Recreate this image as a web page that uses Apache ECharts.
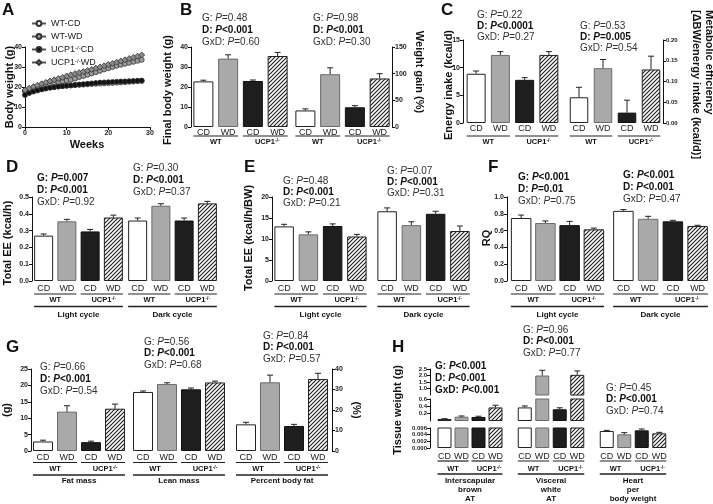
<!DOCTYPE html>
<html><head><meta charset="utf-8">
<script src="https://cdn.jsdelivr.net/npm/echarts@6/dist/echarts.min.js"></script>
<style>html,body{margin:0;padding:0;background:#fff}#c{width:713px;height:504px}</style>
</head><body><div id="c"></div>
<script>
// ---------------- DATA ----------------
const xCats = ['CD', 'WD', 'CD', 'WD'];
const weeks = [0,1,2,3,4,5,6,7,8,9,10,11,12,13,14,15,16,17,18,19,20,21,22,23,24,25,26,27,28];
const bwWTCD  = [17.8,18.3,18.7,19.0,19.3,19.6,19.9,20.1,20.3,20.5,20.7,20.8,21.0,21.1,21.2,21.3,21.5,21.6,21.7,21.8,21.9,22.0,22.1,22.3,22.4,22.6,22.7,22.9,23.0];
const bwWTWD  = [18.0,18.6,19.3,19.9,20.5,21.0,21.5,22.0,22.4,22.8,23.2,23.6,24.2,25.0,25.5,26.1,26.8,27.4,28.1,28.8,29.4,30.0,30.6,31.1,31.6,32.1,32.6,33.1,33.6];
const bwUCPCD = [16.0,17.0,17.7,18.3,18.8,19.2,19.6,19.9,20.2,20.4,20.6,20.8,21.0,21.2,21.4,21.6,21.8,22.0,22.2,22.3,22.4,22.5,22.6,22.7,22.8,22.9,23.0,23.1,23.2];
const bwUCPWD = [18.5,19.4,20.2,20.9,21.6,22.3,23.0,23.6,24.2,24.8,25.5,26.1,26.7,27.2,27.7,28.2,28.8,29.4,30.0,30.6,31.2,31.8,32.4,33.0,33.6,34.2,34.8,35.4,36.0];
const finalBW = [22.8, 34.2, 23.0, 35.5];
const finalBWErr = [0.6, 1.9, 0.5, 1.8];
const weightGain = [31, 99, 37, 91];
const weightGainErr = [3, 12, 3, 9];
const energyIntake = [8.9, 12.3, 7.8, 12.3];
const energyIntakeErr = [0.5, 0.6, 0.4, 0.6];
const metabEff = [0.062, 0.132, 0.025, 0.129];
const metabEffErr = [0.024, 0.021, 0.030, 0.032];
const eeLight = [0.27, 0.355, 0.295, 0.378];
const eeLightErr = [0.01, 0.012, 0.012, 0.014];
const eeDark = [0.36, 0.448, 0.36, 0.462];
const eeDarkErr = [0.015, 0.012, 0.015, 0.012];
const eeBWLight = [13.0, 11.1, 13.1, 10.6];
const eeBWLightErr = [0.5, 0.6, 0.5, 0.5];
const eeBWDark = [16.6, 13.3, 16.0, 11.9];
const eeBWDarkErr = [0.8, 0.8, 0.6, 1.2];
const rqLight = [0.75, 0.69, 0.665, 0.615];
const rqLightErr = [0.035, 0.025, 0.045, 0.015];
const rqDark = [0.835, 0.74, 0.71, 0.655];
const rqDarkErr = [0.015, 0.03, 0.012, 0.008];
const fatMass = [2.9, 12.0, 2.7, 12.9];
const fatMassErr = [0.4, 1.8, 0.3, 1.4];
const leanMass = [18.0, 20.4, 18.8, 20.9];
const leanMassErr = [0.3, 0.4, 0.4, 0.4];
const pctFat = [13.0, 33.5, 12.2, 35.1];
const pctFatErr = [1.0, 3.5, 0.8, 2.8];
const ibatWt = [0.055, 0.117, 0.11, 0.37];
const ibatErr = [0.008, 0.02, 0.02, 0.06];
const vwatWt = [0.37, 2.0, 0.32, 2.05];
const vwatErr = [0.04, 0.4, 0.04, 0.3];
const heartRatio = [0.0051, 0.0041, 0.0053, 0.0044];
const heartErr = [0.0002, 0.0005, 0.0004, 0.0003];

// ---------------- HELPERS ----------------
const FONT = '"Liberation Sans", Arial, sans-serif';
const hc = document.createElement('canvas'); hc.width = 4; hc.height = 4;
const hg = hc.getContext('2d');
hg.fillStyle = '#fff'; hg.fillRect(0, 0, 4, 4);
hg.strokeStyle = '#1a1a1a'; hg.lineWidth = 1.1;
hg.beginPath(); hg.moveTo(0, 4); hg.lineTo(4, 0); hg.moveTo(-1, 1); hg.lineTo(1, -1); hg.moveTo(3, 5); hg.lineTo(5, 3); hg.stroke();
const HATCH = { image: hc, repeat: 'repeat' };

function styleFor(i) {
  if (i === 0) return { color: '#ffffff', borderColor: '#222', borderWidth: 1 };
  if (i === 1) return { color: '#a9a9a9', borderColor: '#6a6a6a', borderWidth: 1 };
  if (i === 2) return { color: '#1e1e1e', borderColor: '#111', borderWidth: 1 };
  return { color: HATCH, borderColor: '#222', borderWidth: 1 };
}

const grids = [], xAxes = [], yAxes = [], series = [], graphics = [];

function errSeries(gi, vals, errs) {
  return {
    type: 'custom', xAxisIndex: gi, yAxisIndex: gi, clip: true, z: 3, animation: false, silent: true,
    data: vals.map((v, i) => [i, v, v + errs[i]]),
    renderItem(params, api) {
      const a = api.coord([api.value(0), api.value(1)]);
      const b = api.coord([api.value(0), api.value(2)]);
      const hw = 3;
      return { type: 'group', children: [
        { type: 'line', shape: { x1: a[0], y1: a[1], x2: b[0], y2: b[1] }, style: { stroke: '#222', lineWidth: 1 } },
        { type: 'line', shape: { x1: b[0] - hw, y1: b[1], x2: b[0] + hw, y2: b[1] }, style: { stroke: '#222', lineWidth: 1 } }
      ] };
    }
  };
}

function bars(c) {
  const gi = grids.length;
  grids.push({ left: c.left, top: c.top, width: c.width, height: c.height });
  xAxes.push({ type: 'category', gridIndex: gi, data: xCats, axisLine: { show: false }, axisTick: { show: false },
    axisLabel: { show: c.xlabels !== false, interval: 0, fontSize: 9, color: '#222', fontFamily: FONT, margin: c.margin == null ? 2 : c.margin } });
  yAxes.push({ type: 'value', gridIndex: gi, min: c.min, max: c.max, interval: c.interval, show: !!c.axis,
    position: c.axis || 'left', offset: c.offset || 0, splitLine: { show: false },
    axisLine: { show: true, lineStyle: { color: '#111', width: 1 } },
    axisTick: { show: true, length: 3, lineStyle: { color: '#111' }, customValues: c.ticks },
    axisLabel: { fontSize: c.labelSize || 7, fontWeight: 'bold', color: '#222', margin: 3, fontFamily: FONT,
      showMinLabel: true, showMaxLabel: true, hideOverlap: false,
      formatter: c.fmt || (v => String(v)), customValues: c.ticks } });
  series.push({ type: 'bar', xAxisIndex: gi, yAxisIndex: gi, barWidth: c.barWidth, clip: true, animation: false,
    data: c.vals.map((v, i) => ({ value: v, itemStyle: styleFor(i) })) });
  series.push(errSeries(gi, c.vals, c.errs));
  return c;
}

function txt(x, y, text, opt) {
  opt = opt || {};
  graphics.push({ type: 'text', x: x, y: y, rotation: opt.rot || 0, silent: true,
    style: { text: text, fill: opt.color || '#111', fontSize: opt.size || 10, fontWeight: opt.weight || 'normal',
      fontFamily: FONT, align: opt.align || 'center', verticalAlign: opt.valign || 'middle',
      rich: opt.rich } });
}
function hline(x1, x2, y, w) {
  graphics.push({ type: 'line', silent: true, shape: { x1: x1, y1: y, x2: x2, y2: y }, style: { stroke: '#222', lineWidth: w || 1.2 } });
}
const ucpRich = {
  b: { fontSize: 7.5, fontWeight: 'bold', fontFamily: FONT, fill: '#111' },
  s: { fontSize: 5, fontWeight: 'bold', fontFamily: FONT, fill: '#111', verticalAlign: 'top' }
};
function groups(c, y1, yT, y2, yName, names) {
  const p = c.width / 4, bw = c.barWidth;
  const L = i => c.left + p * (i + 0.5) - bw / 2, R = i => c.left + p * (i + 0.5) + bw / 2;
  hline(L(0), R(1), y1);
  hline(L(2), R(3), y1);
  txt((L(0) + R(1)) / 2, yT, '{b|WT}', { rich: ucpRich });
  txt((L(2) + R(3)) / 2 + 2, yT, '{b|UCP1}{s|-/-}', { rich: ucpRich });
  if (y2 != null) {
    hline(L(0), R(3), y2, 1.5);
    names.forEach((n, k) => txt((L(0) + R(3)) / 2, yName + k * 9, n, { size: 8, weight: 'bold' }));
  }
}
const annRich = (lh) => ({
  n: { fontSize: 10, fontFamily: FONT, fill: '#333', lineHeight: lh },
  i: { fontSize: 10, fontFamily: FONT, fill: '#333', fontStyle: 'italic', lineHeight: lh },
  bn: { fontSize: 10, fontFamily: FONT, fill: '#111', fontWeight: 'bold', lineHeight: lh },
  bi: { fontSize: 10, fontFamily: FONT, fill: '#111', fontWeight: 'bold', fontStyle: 'italic', lineHeight: lh }
});
function ann(x, y, lines, lh) {
  lh = lh || 12;
  const t = lines.map(([l, p, b]) => b ? `{bn|${l}: }{bi|P}{bn|${p}}` : `{n|${l}: }{i|P}{n|${p}}`).join('\n');
  graphics.push({ type: 'text', x: x, y: y - lh / 2, silent: true,
    style: { text: t, align: 'left', verticalAlign: 'top', rich: annRich(lh), fontSize: 10, fontFamily: FONT } });
}

// ---------------- PANEL A ----------------
grids.push({ left: 25, top: 47, width: 125, height: 80 });
const axStyle = { axisLine: { show: true, onZero: false, lineStyle: { color: '#111', width: 1 } },
  axisTick: { show: true, length: 3, lineStyle: { color: '#111' } }, splitLine: { show: false },
  axisLabel: { fontSize: 7, fontWeight: 'bold', color: '#222', margin: 3, fontFamily: FONT } };
xAxes.push(Object.assign({ type: 'value', gridIndex: 0, min: 0, max: 30, interval: 10 }, axStyle));
yAxes.push(Object.assign({ type: 'value', gridIndex: 0, min: 0, max: 40, interval: 10 }, axStyle));
const lineSeries = [
  ['WT-CD', bwWTCD, 'circle', '#ffffff'],
  ['WT-WD', bwWTWD, 'circle', '#9c9c9c'],
  ['UCP1-/-CD', bwUCPCD, 'circle', '#111111'],
  ['UCP1-/-WD', bwUCPWD, 'diamond', '#8a8a8a']
];
lineSeries.forEach(([name, arr, sym, col]) => {
  series.push({ type: 'line', name: name, xAxisIndex: 0, yAxisIndex: 0, animation: false,
    data: weeks.map((w, i) => [w, arr[i]]), symbol: sym, symbolSize: sym === 'diamond' ? 6 : 5, showSymbol: true,
    lineStyle: { color: '#555', width: 0.8 }, itemStyle: { color: col, borderColor: '#333', borderWidth: 0.8 } });
});

// ---------------- PANELS B-H ----------------
const B1 = bars({ left: 191, top: 47, width: 99, height: 80, min: 0, max: 40, interval: 10, vals: finalBW, errs: finalBWErr, barWidth: 20, axis: 'left', margin: 1 });
const B2 = bars({ left: 293, top: 47, width: 99, height: 80, min: 0, max: 150, interval: 50, vals: weightGain, errs: weightGainErr, barWidth: 20, axis: 'right', margin: 1 });
const C1 = bars({ left: 464, top: 40, width: 97, height: 83, min: 0, max: 15, interval: 5, vals: energyIntake, errs: energyIntakeErr, barWidth: 19, axis: 'left', offset: 1, margin: 1 });
const C2 = bars({ left: 567, top: 40, width: 96, height: 83, min: 0, max: 0.2, interval: 0.05, vals: metabEff, errs: metabEffErr, barWidth: 18.5, axis: 'right', fmt: v => v.toFixed(2), margin: 1, labelSize: 6 });
const D1 = bars({ left: 32, top: 197, width: 93, height: 84, min: 0, max: 0.5, interval: 0.1, vals: eeLight, errs: eeLightErr, barWidth: 19, axis: 'left', fmt: v => v.toFixed(1), margin: 3 });
const D2 = bars({ left: 126, top: 197, width: 93, height: 84, min: 0, max: 0.5, interval: 0.1, vals: eeDark, errs: eeDarkErr, barWidth: 19, margin: 3 });
const E1 = bars({ left: 272, top: 197, width: 97, height: 84, min: 0, max: 20, interval: 5, vals: eeBWLight, errs: eeBWLightErr, barWidth: 19.5, axis: 'left', margin: 3 });
const E2 = bars({ left: 375, top: 197, width: 97, height: 84, min: 0, max: 20, interval: 5, vals: eeBWDark, errs: eeBWDarkErr, barWidth: 19.5, margin: 3 });
const F1 = bars({ left: 509, top: 197, width: 97, height: 84, min: 0, max: 1, interval: 0.2, vals: rqLight, errs: rqLightErr, barWidth: 20.5, axis: 'left', offset: 2, fmt: v => v.toFixed(1), margin: 3 });
const F2 = bars({ left: 611, top: 197, width: 99, height: 84, min: 0, max: 1, interval: 0.2, vals: rqDark, errs: rqDarkErr, barWidth: 20.5, margin: 3 });
const G1 = bars({ left: 31, top: 369, width: 96, height: 82, min: 0, max: 25, interval: 5, vals: fatMass, errs: fatMassErr, barWidth: 20, axis: 'left', margin: 2 });
const G2 = bars({ left: 131, top: 369, width: 96, height: 82, min: 0, max: 25, interval: 5, vals: leanMass, errs: leanMassErr, barWidth: 20, margin: 2 });
const G3 = bars({ left: 234, top: 369, width: 96, height: 82, min: 0, max: 40, interval: 10, vals: pctFat, errs: pctFatErr, barWidth: 20, axis: 'right', offset: 2, margin: 2 });
// H: segmented axis (bottom 0-0.006, middle 0-0.6, top 0.5-2.5)
const segB = { top: 428, height: 20, min: 0, max: 0.006, interval: 0.002, fmt: v => v.toFixed(3), margin: 4, labelSize: 6 };
const segM = { top: 399, height: 22, min: 0, max: 0.6, interval: 0.2, ticks: [0.2, 0.4, 0.6], fmt: v => v.toFixed(1), xlabels: false, labelSize: 6 };
const segT = { top: 369, height: 26, min: 0.5, max: 2.5, interval: 0.5, ticks: [1, 1.5, 2, 2.5], fmt: v => v.toFixed(1), xlabels: false, labelSize: 6 };
const H1 = bars(Object.assign({ left: 436, width: 68, vals: ibatWt, errs: ibatErr, barWidth: 14, axis: 'left', offset: 6 }, segB));
bars(Object.assign({ left: 436, width: 68, vals: ibatWt, errs: ibatErr, barWidth: 14, axis: 'left', offset: 6 }, segM));
bars(Object.assign({ left: 436, width: 68, vals: ibatWt, errs: ibatErr, barWidth: 14, axis: 'left', offset: 6 }, segT));
const H2 = bars(Object.assign({ left: 516, width: 70, vals: vwatWt, errs: vwatErr, barWidth: 14 }, segB));
bars(Object.assign({ left: 516, width: 70, vals: vwatWt, errs: vwatErr, barWidth: 14 }, segM));
bars(Object.assign({ left: 516, width: 70, vals: vwatWt, errs: vwatErr, barWidth: 14 }, segT));
const H3 = bars(Object.assign({ left: 598, width: 70, vals: heartRatio, errs: heartErr, barWidth: 14 }, segB));

// group labels
[B1, B2, C1, C2].forEach(c => groups(c, 136, 142));
[[D1, 'Light cycle'], [D2, 'Dark cycle'], [E1, 'Light cycle'], [E2, 'Dark cycle'], [F1, 'Light cycle'], [F2, 'Dark cycle']]
  .forEach(([c, n]) => groups(c, 294, 300, 306.5, 315, [n]));
[[G1, 'Fat mass'], [G2, 'Lean mass'], [G3, 'Percent body fat']].forEach(([c, n]) => groups(c, 462.5, 469, 475, 481, [n]));
[[H1, ['Interscapular', 'brown', 'AT']], [H2, ['Visceral', 'white', 'AT']], [H3, ['Heart', 'per', 'body weight']]]
  .forEach(([c, n]) => groups(c, 461, 469, 474, 480.5, n));

// statistics annotations
ann(202, 18, [['G', '=0.48', false], ['D', '<0.001', true], ['GxD', '=0.60', false]]);
ann(313, 18, [['G', '=0.98', false], ['D', '<0.001', true], ['GxD', '=0.30', false]]);
ann(477, 15, [['G', '=0.22', false], ['D', '<0.0001', true], ['GxD', '=0.27', false]], 11);
ann(580, 26, [['G', '=0.53', false], ['D', '=0.005', true], ['GxD', '=0.54', false]], 11);
ann(37, 178, [['G', '=0.007', true], ['D', '<0.001', true], ['GxD', '=0.92', false]]);
ann(133, 168, [['G', '=0.30', false], ['D', '<0.001', true], ['GxD', '=0.37', false]]);
ann(283, 181, [['G', '=0.48', false], ['D', '<0.001', true], ['GxD', '=0.21', false]], 11);
ann(387, 171, [['G', '=0.07', false], ['D', '<0.001', true], ['GxD', '=0.31', false]], 11);
ann(518, 177, [['G', '<0.001', true], ['D', '=0.01', true], ['GxD', '=0.75', false]]);
ann(623, 175, [['G', '<0.001', true], ['D', '<0.001', true], ['GxD', '=0.47', false]]);
ann(40, 367, [['G', '=0.66', false], ['D', '<0.001', true], ['GxD', '=0.54', false]]);
ann(144, 342, [['G', '=0.56', false], ['D', '<0.001', true], ['GxD', '=0.68', false]], 11.5);
ann(263, 336, [['G', '=0.84', false], ['D', '<0.001', true], ['GxD', '=0.57', false]], 11.5);
ann(435, 366, [['G', '<0.001', true], ['D', '<0.001', true], ['GxD', '<0.001', true]]);
ann(523, 330, [['G', '=0.96', false], ['D', '<0.001', true], ['GxD', '=0.77', false]], 11.5);
ann(606, 388, [['G', '=0.45', false], ['D', '<0.001', true], ['GxD', '=0.74', false]], 11.5);

// panel letters
[['A', 2, 2], ['B', 180, 2], ['C', 441, 2], ['D', 6, 159], ['E', 244, 159], ['F', 488, 159], ['G', 6, 339], ['H', 392, 339]]
  .forEach(([l, x, y]) => txt(x, y, l, { size: 17, weight: 'bold', align: 'left', valign: 'top' }));

// axis titles
const R90 = Math.PI / 2;
txt(10, 87, 'Body weight (g)', { size: 11, weight: 'bold', rot: R90 });
txt(87, 145, 'Weeks', { size: 11, weight: 'bold' });
txt(168, 90, 'Final body weight (g)', { size: 11, weight: 'bold', rot: R90 });
txt(419, 72, 'Weight gain (%)', { size: 11, weight: 'bold', rot: -R90 });
txt(449, 85, 'Energy inake (kcal/d)', { size: 11, weight: 'bold', rot: R90 });
txt(709, 10, 'Metabolic efficiency', { size: 11, weight: 'bold', rot: -R90, align: 'left' });
txt(696, 10, '[ΔBW/energy intake (kcal/d)]', { size: 11, weight: 'bold', rot: -R90, align: 'left' });
txt(8, 243, 'Total EE (kcal/h)', { size: 11, weight: 'bold', rot: R90 });
txt(249, 238, 'Total EE (kcal/h/BW)', { size: 11, weight: 'bold', rot: R90 });
txt(487, 238, 'RQ', { size: 11, weight: 'bold', rot: R90 });
txt(7, 410, '(g)', { size: 11, weight: 'bold', rot: R90 });
txt(356, 410, '(%)', { size: 11, weight: 'bold', rot: -R90 });
txt(398, 410, 'Tissue weight (g)', { size: 11, weight: 'bold', rot: R90 });

// ---------------- CHART ----------------
const chart = echarts.init(document.getElementById('c'));
chart.setOption({
  animation: false,
  backgroundColor: '#fff',
  textStyle: { fontFamily: FONT },
  legend: {
    data: lineSeries.map(s => s[0]), orient: 'vertical', left: 26, top: 14, itemWidth: 14, itemHeight: 6, itemGap: 4,
    formatter: n => n.startsWith('UCP1') ? '{a|UCP1}{s|-/-}{a|' + n.slice(7) + '}' : '{a|' + n + '}',
    textStyle: { rich: { a: { fontSize: 9, color: '#222', fontFamily: FONT }, s: { fontSize: 6, color: '#222', verticalAlign: 'top', fontFamily: FONT } } }
  },
  grid: grids, xAxis: xAxes, yAxis: yAxes, series: series,
  graphic: { elements: graphics }
});
</script></body></html>
